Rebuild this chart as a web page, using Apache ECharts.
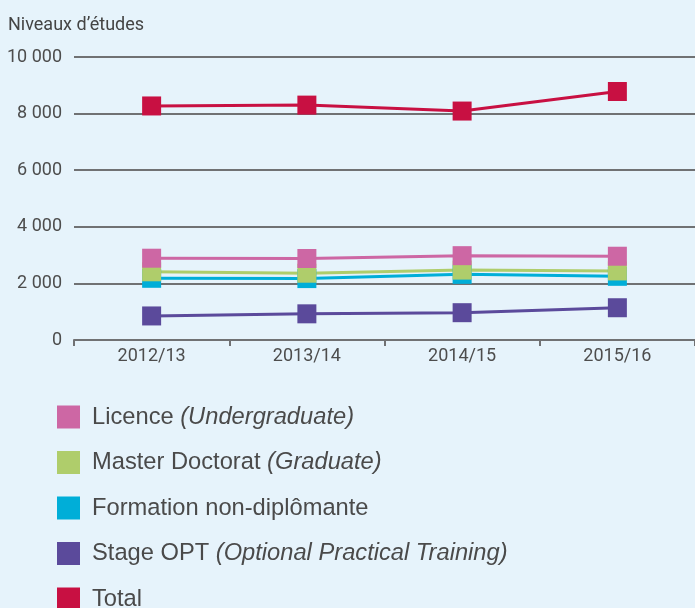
<!DOCTYPE html>
<html>
<head>
<meta charset="utf-8">
<script src="https://cdn.jsdelivr.net/npm/echarts@6/dist/echarts.min.js"></script>
<style>
  html, body { margin: 0; padding: 0; background: #e6f3fb; }
  #chart { width: 695px; height: 608px; }
</style>
</head>
<body>
<div id="chart"></div>
<script>
// données
const years = ['2012/13', '2013/14', '2014/15', '2015/16'];
const licence = [2890, 2880, 2980, 2960];
const master = [2410, 2360, 2470, 2440];
const formation = [2180, 2170, 2320, 2250];
const stageOpt = [850, 925, 965, 1140];
const total = [8270, 8300, 8090, 8780];

const names = {
  licence: 'Licence',
  master: 'Master Doctorat',
  formation: 'Formation non-diplômante',
  stage: 'Stage OPT',
  total: 'Total'
};
const italics = {
  'Licence': '(Undergraduate)',
  'Master Doctorat': '(Graduate)',
  'Stage OPT': '(Optional Practical Training)'
};

const chart = echarts.init(document.querySelector('#chart'));

function line(name, data, color) {
  return {
    name,
    type: 'line',
    data,
    symbol: 'rect',
    symbolSize: 19,
    color,
    lineStyle: { width: 3, color },
    itemStyle: { color },
    emphasis: { disabled: true }
  };
}

function legend(top, data) {
  return {
    orient: 'vertical',
    left: 57,
    top,
    padding: 0,
    itemWidth: 23,
    itemHeight: 23,
    itemGap: 21.5,
    icon: 'rect',
    data,
    formatter: (n) => italics[n] ? n + ' {i|' + italics[n] + '}' : n,
    textStyle: {
      fontSize: 23.7,
      color: '#4a4a4a',
      fontFamily: 'Liberation Sans',
      padding: [0, 0, 0, 7],
      rich: {
        i: { fontSize: 23.7, fontStyle: 'italic', color: '#4a4a4a', fontFamily: 'Liberation Sans' }
      }
    }
  };
}

const option = {
  backgroundColor: '#e6f3fb',
  animation: false,
  textStyle: { fontFamily: 'Roboto, sans-serif' },
  title: {
    text: 'Niveaux d\u2019études',
    left: 3,
    top: 11,
    textStyle: { fontSize: 18, fontWeight: 'normal', color: '#444', fontFamily: 'Roboto' }
  },
  legend: [
    legend(405, [names.licence, names.master, names.formation, names.stage]),
    legend(587, [names.total])
  ],
  grid: { left: 74, right: 0, top: 57, bottom: 268, containLabel: false },
  xAxis: {
    type: 'category',
    data: years,
    boundaryGap: true,
    axisLine: { lineStyle: { color: '#707173', width: 2 } },
    axisTick: { show: true, length: 6, lineStyle: { color: '#707173', width: 2 } },
    axisLabel: { fontSize: 18, color: '#4d4d4d', margin: 7, fontFamily: 'Roboto' }
  },
  yAxis: {
    type: 'value',
    min: 0,
    max: 10000,
    interval: 2000,
    axisLine: { show: false },
    axisTick: { show: false },
    splitLine: { lineStyle: { color: '#707173', width: 2 } },
    axisLabel: {
      fontSize: 18,
      color: '#4d4d4d',
      margin: 12,
      fontFamily: 'Roboto',
      verticalAlign: 'middle',
      padding: [4, 0, 0, 0],
      formatter: (v) => v >= 1000 ? String(v).replace(/(\d)(?=(\d{3})+$)/g, '$1 ') : String(v)
    }
  },
  series: [
    line(names.formation, formation, '#00aed8'),
    line(names.master, master, '#afcd6b'),
    line(names.licence, licence, '#cd67a4'),
    line(names.stage, stageOpt, '#5b4a9b'),
    line(names.total, total, '#c81042')
  ]
};
chart.setOption(option);
</script>
</body>
</html>
